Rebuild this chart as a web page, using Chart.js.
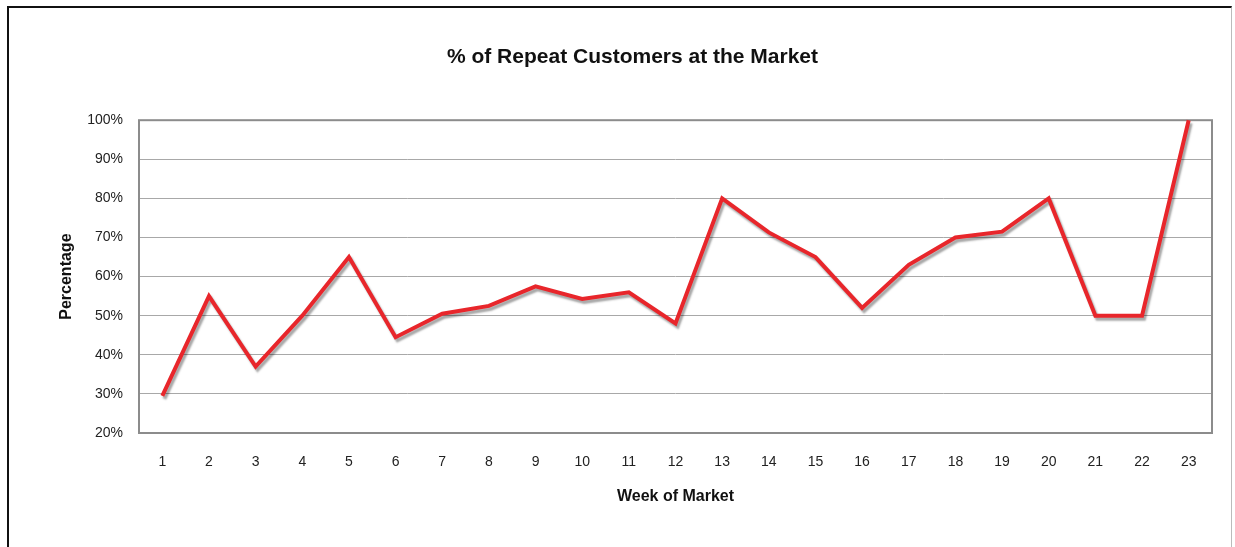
<!DOCTYPE html>
<html>
<head>
<meta charset="utf-8">
<script src="https://cdn.jsdelivr.net/npm/chart.js@4"></script>
<style>
  html, body { margin: 0; padding: 0; background: #fff; }
  #frame {
    position: absolute; left: 7px; top: 6px; width: 1222px; height: 560px;
    border-left: 2px solid #111; border-top: 2px solid #111; border-right: 1px solid #bbb;
  }
  #wrap { position: absolute; left: 0; top: 0; width: 1235px; height: 547px; }
</style>
</head>
<body>
<div id="frame"></div>
<div id="wrap"><canvas id="myChart" width="1235" height="547"></canvas></div>
<script>
var weeks = ['1', '2', '3', '4', '5', '6', '7', '8', '9', '10', '11', '12',
             '13', '14', '15', '16', '17', '18', '19', '20', '21', '22', '23'];
var repeatPct = [29.5, 55, 37, 50, 65, 44.5, 50.5, 52.5, 57.5, 54.3, 56, 48,
                 80, 71.3, 65, 52, 63, 70, 71.5, 80, 50, 50, 100];

// gray drop shadow under the line + gray box round the plot area
var shadowPlugin = {
    id: 'shadow',
    beforeDatasetDraw: function (chart) {
        var c = chart.ctx;
        c.save();
        c.shadowColor = 'rgba(0,0,0,0.35)';
        c.shadowOffsetX = 2;
        c.shadowOffsetY = 3;
        c.shadowBlur = 2;
    },
    afterDatasetDraw: function (chart) {
        chart.ctx.restore();
    },
    beforeDatasetsDraw: function (chart) {
        var a = chart.chartArea, c = chart.ctx;
        c.save();
        c.strokeStyle = '#8c8c8c';
        c.lineWidth = 2;
        c.strokeRect(a.left, a.top, a.right - a.left, a.bottom - a.top);
        c.restore();
    }
};

var ctx = document.getElementById('myChart').getContext('2d');
var myChart = new Chart(ctx, {
    type: 'line',
    data: {
        labels: weeks,
        datasets: [{
            label: '% Repeat Customers',
            data: repeatPct,
            borderColor: '#e8262b',
            borderWidth: 4,
            pointRadius: 0,
            tension: 0,
            clip: false
        }]
    },
    options: {
        responsive: false,
        animation: false,
        layout: { padding: { left: 53, right: 23, top: 30, bottom: 37 } },
        plugins: {
            legend: { display: false },
            tooltip: { enabled: false },
            title: {
                display: true,
                text: '% of Repeat Customers at the Market',
                color: '#111',
                font: { family: 'Liberation Sans', size: 21, weight: 'bold' },
                padding: { top: 15, bottom: 50 }
            }
        },
        scales: {
            x: {
                offset: true,
                grid: { display: false, drawTicks: false },
                border: { display: false },
                ticks: {
                    color: '#222', padding: 21, maxRotation: 0,
                    font: { family: 'Liberation Sans', size: 14 }
                },
                title: {
                    display: true, text: 'Week of Market', color: '#111',
                    font: { family: 'Liberation Sans', size: 16, weight: 'bold' },
                    padding: { top: -5 }
                }
            },
            y: {
                min: 20, max: 100,
                grid: { color: '#a8a8a8', lineWidth: 1, drawTicks: false },
                border: { display: false },
                afterFit: function (scale) { scale.width = 86; },
                ticks: {
                    stepSize: 10, color: '#222', padding: 16,
                    font: { family: 'Liberation Sans', size: 14 },
                    callback: function (v) { return v + '%'; }
                },
                title: {
                    display: true, text: 'Percentage', color: '#111',
                    font: { family: 'Liberation Sans', size: 16, weight: 'bold' },
                    padding: { bottom: 0 }
                }
            }
        }
    },
    plugins: [shadowPlugin]
});
</script>
</body>
</html>
